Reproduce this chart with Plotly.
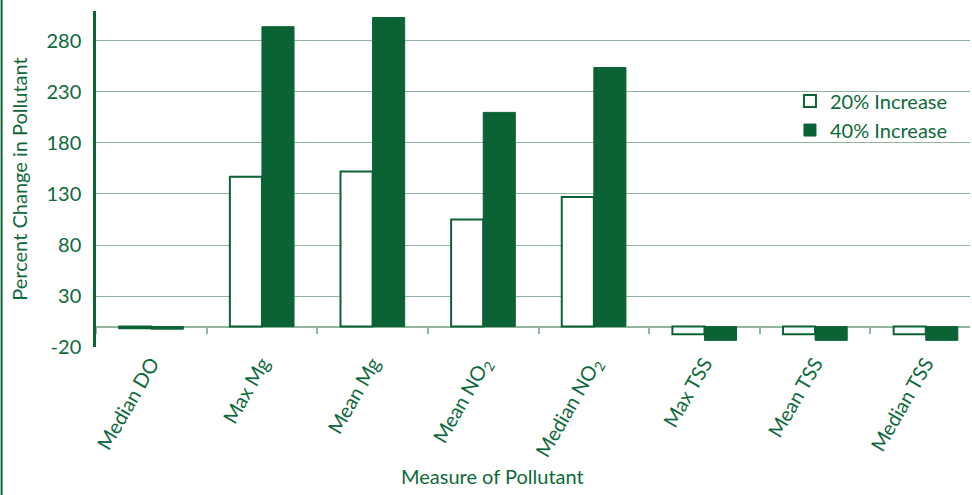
import plotly.graph_objects as go

# Pollutant measures and percent change for each scenario
categories = ["Median DO", "Max Mg", "Mean Mg", "Mean NO<sub>2</sub>",
              "Median NO<sub>2</sub>", "Max TSS", "Mean TSS", "Median TSS"]
increase_20 = [-1.5, 147, 152, 105, 127, -7.5, -7.5, -7.5]
increase_40 = [-2.5, 294, 303, 210, 254, -13.5, -13.5, -13.5]
series_names = ["20% Increase", "40% Increase"]

y_min, y_max = -20, 309.4
y_ticks = [-20, 30, 80, 130, 180, 230, 280]
y_tick_text = ["-20", "30", "80", "130", "180", "230", "280"]

DARK = "#0a6235"
TEXT = "#0c6a3a"
GRID = "#92b69d"
FONT = "Lato"
FS = 20

fig = go.Figure()
fig.add_trace(go.Bar(
    x=categories, y=increase_20, name=series_names[0],
    marker=dict(color="white", line=dict(color=DARK, width=2)),
))
fig.add_trace(go.Bar(
    x=categories, y=increase_40, name=series_names[1],
    marker=dict(color=DARK, line=dict(color=DARK, width=1)),
))
# invisible helper trace so the zero-crossing axis is drawn
fig.add_trace(go.Scatter(
    x=categories, y=[0] * len(categories), xaxis="x2", mode="markers",
    marker=dict(opacity=0), showlegend=False, hoverinfo="skip",
))

zero_pos = (0 - y_min) / (y_max - y_min)
x_range = [-0.5, 7.4]

fig.update_layout(
    width=972, height=495,
    margin=dict(l=96, r=2, t=11, b=148),
    plot_bgcolor="white", paper_bgcolor="white",
    font=dict(family=FONT, color=TEXT, size=FS),
    barmode="group", bargap=0.42, bargroupgap=0,
    showlegend=True,
    legend=dict(
        x=0.794, y=0.79, xanchor="left", yanchor="top",
        bgcolor="rgba(0,0,0,0)", font=dict(size=FS, color=TEXT),
        itemwidth=30, tracegroupgap=0,
    ),
    xaxis=dict(
        type="category", categoryorder="array", categoryarray=categories,
        range=x_range, showgrid=False, zeroline=False,
        showline=False, ticks="", tickangle=-60,
        tickfont=dict(size=FS, color=TEXT),
    ),
    xaxis2=dict(
        type="category", categoryorder="array", categoryarray=categories,
        range=x_range, overlaying="x", anchor="free", position=zero_pos,
        showline=True, linecolor=GRID, linewidth=1.5, layer="below traces",
        ticks="outside", tickson="boundaries", ticklen=7, tickwidth=1.5,
        tickcolor=GRID, showticklabels=False, showgrid=False, zeroline=False,
    ),
    yaxis=dict(
        range=[y_min, y_max], tickvals=y_ticks, ticktext=y_tick_text,
        showgrid=True, gridcolor=GRID, gridwidth=1.3,
        zeroline=False, showline=True, linecolor=DARK, linewidth=2.5,
        ticks="", tickfont=dict(size=FS, color=TEXT), ticklabelstandoff=8,
        title=dict(text="Percent Change in Pollutant", font=dict(size=FS, color=TEXT), standoff=14),
    ),
    annotations=[dict(
        text="Measure of Pollutant", xref="paper", yref="paper",
        x=0.454, y=-0.385, xanchor="center", yanchor="middle",
        showarrow=False, font=dict(size=FS, color=TEXT),
    )],
    shapes=[dict(
        type="line", xref="paper", yref="paper",
        x0=-0.108, x1=-0.108, y0=-0.45, y1=1.04,
        line=dict(color=DARK, width=2),
    )],
)

fig.write_html("out.html")
